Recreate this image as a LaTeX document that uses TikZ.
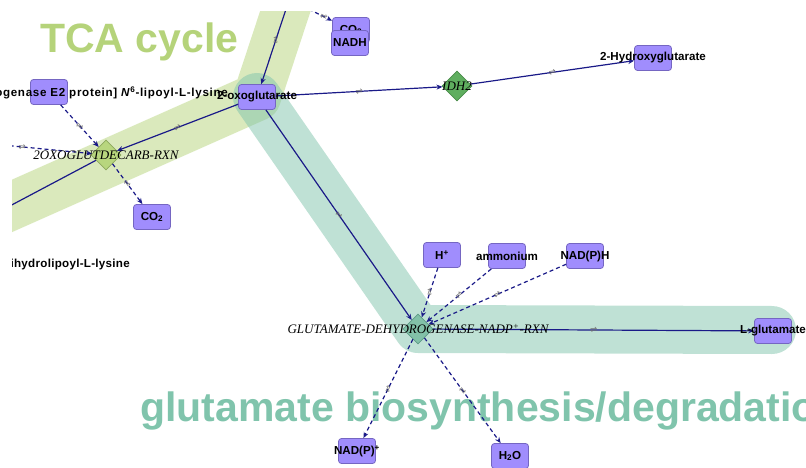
\documentclass[tikz,border=0pt]{standalone}
\usepackage{fontspec}
\setmainfont{Liberation Sans}
\newfontfamily\lblfont{Liberation Sans}
\newfontfamily\widelblfont{Liberation Sans}[LetterSpace=6]
\newfontfamily\midlblfont{Liberation Sans}[LetterSpace=2.5]
\newfontfamily\rxnfont{Liberation Serif}
\newfontfamily\symfont{DejaVu Sans}
\usetikzlibrary{shapes.geometric,arrows.meta}

\definecolor{tcagreen}{HTML}{B5D37A}
\definecolor{glutteal}{HTML}{80C4AC}
\definecolor{cpdfill}{HTML}{A08DFD}
\definecolor{cpddraw}{HTML}{7566C2}
\definecolor{edgeblue}{HTML}{1A1A88}
\definecolor{idhfill}{HTML}{5FAE5F}
\definecolor{idhdraw}{HTML}{4A8C4A}
\definecolor{odcfill}{HTML}{B8D67E}
\definecolor{odcdraw}{HTML}{8CA85C}
\definecolor{gdhfill}{HTML}{82C1A8}
\definecolor{gdhdraw}{HTML}{5E9C86}
\definecolor{revgray}{HTML}{707070}

\tikzset{
  cpd/.style={draw=cpddraw, fill=cpdfill, rounded corners=3pt,
    minimum width=37pt, minimum height=25pt, inner sep=0pt, line width=0.8pt},
  rxn/.style={diamond, minimum size=30pt, inner sep=0pt, line width=0.6pt},
  lbl/.style={font=\lblfont\bfseries\fontsize{11.6}{12}\selectfont, inner sep=0pt},
  widelbl/.style={font=\widelblfont\bfseries\fontsize{11.6}{12}\selectfont, inner sep=0pt},
  midlbl/.style={font=\midlblfont\bfseries\fontsize{11.6}{12}\selectfont, inner sep=0pt},
  rxnlbl/.style={font=\rxnfont\itshape\fontsize{13}{14}\selectfont, inner sep=0pt},
  flux/.style={draw=edgeblue, line width=1.2pt, -{Stealth[length=6pt,width=5pt]}},
  aux/.style={flux, dash pattern=on 4pt off 3pt},
  rev/.style={sloped, font=\symfont\fontsize{8.5}{8.5}\selectfont, text=revgray, inner sep=0.5pt},
  band/.style={line width=48pt, line cap=round, line join=round, opacity=0.5},
  title/.style={font=\lblfont\bfseries\fontsize{41}{41}\selectfont,
    anchor=base west, inner sep=0pt},
}

\begin{document}
\begin{tikzpicture}[x=1pt, y=-1pt]
\useasboundingbox (0,0) rectangle (806,468);

\begin{scope}
\clip (12,12) rectangle (806,468);

% pathway bands
\draw[band, tcagreen] (293,-12) -- (257,97) -- (-40,229);
\draw[band, glutteal] (257,97) -- (418,329) -- (772,330);

% pathway titles
\node[title, text=tcagreen] (tcatitle) at (40,53) {TCA cycle};
\node[title, text=glutteal] (gluttitle) at (140,421) {glutamate biosynthesis/degradation};

% compounds
\node[cpd] (co2top) at (351,30) {};
\node[lbl] at (co2top) {CO\textsubscript{2}};
\node[cpd] (nadh) at (350,43) {};
\node[cpd] (e2) at (49,92) {};
\node[cpd] (oxo) at (257,97) {};
\node[cpd] (hg) at (653,58) {};
\node[cpd] (co2) at (152,217) {};
\node[cpd] (hplus) at (442,255) {};
\node[cpd] (amm) at (507,256) {};
\node[cpd] (nadph) at (585,256) {};
\node[cpd] (glu) at (773,331) {};
\node[cpd] (nadp) at (357,451) {};
\node[cpd] (water) at (510,456) {};

% reactions
\node[rxn, draw=idhdraw, fill=idhfill] (idh) at (457,86) {};
\node[rxn, draw=odcdraw, fill=odcfill] (odc) at (106,155) {};
\node[rxn, draw=gdhdraw, fill=gdhfill] (gdh) at (418,329) {};

% off-view ends
\coordinate (topin) at (290,-3);
\coordinate (coin) at (290,0);
\coordinate (leftin) at (-60,139);
\coordinate (leftout) at (-60,243);
\coordinate (lipoyl) at (130,265);

% connectors
\draw[flux] (topin) -- node[rev]{⇌} (oxo);
\draw[aux] (coin) -- node[rev, pos=0.8]{⇌} (co2top);
\draw[flux] (oxo) -- node[rev]{⇌} (odc);
\draw[flux] (odc) -- (leftout);
\draw[aux] (e2) -- node[rev]{⇌} (odc);
\draw[aux] (leftin) -- node[rev, pos=0.54]{⇌} (odc);
\draw[aux] (odc) -- node[rev]{⇌} (co2);
\draw[flux] (oxo) -- node[rev]{⇌} (idh);
\draw[flux] (idh) -- node[rev]{⇌} (hg);
\draw[flux] (oxo) -- node[rev]{⇌} (gdh);
\draw[aux] (hplus) -- node[rev]{⇌} (gdh);
\draw[aux] (amm) -- node[rev]{⇌} (gdh);
\draw[aux] (nadph) -- node[rev]{⇌} (gdh);
\draw[flux] (gdh) -- node[rev]{⇌} (glu);
\draw[aux] (gdh) -- node[rev]{⇌} (nadp);
\draw[aux] (gdh) -- node[rev]{⇌} (water);

% labels
\node[lbl] at (nadh) {NADH};
\node[lbl] at (oxo) {2-oxoglutarate};
\node[lbl] at (hg) {2-Hydroxyglutarate};
\node[lbl] at (co2) {CO\textsubscript{2}};
\node[lbl] at (hplus) {H\textsuperscript{+}};
\node[lbl] at (amm) {ammonium};
\node[lbl] at (nadph) {NAD(P)H};
\node[lbl] at (glu) {L-glutamate};
\node[lbl] at (nadp) {NAD(P)\textsuperscript{+}};
\node[lbl] at (water) {H\textsubscript{2}O};
\node[midlbl, anchor=east] at (lipoyl) {dihydrolipoyl-L-lysine};
\node[rxnlbl] at (idh) {IDH2};
\node[rxnlbl] at (odc) {2OXOGLUTDECARB-RXN};
\node[rxnlbl] at (gdh) {GLUTAMATE-DEHYDROGENASE-NADP\textsuperscript{+}-RXN};
\end{scope}

\node[widelbl, anchor=east] at (228,93) {[2-oxoglutarate dehydrogenase E2 protein] \textit{N}\textsuperscript{6}-lipoyl-L-lysine};
\end{tikzpicture}
\end{document}
